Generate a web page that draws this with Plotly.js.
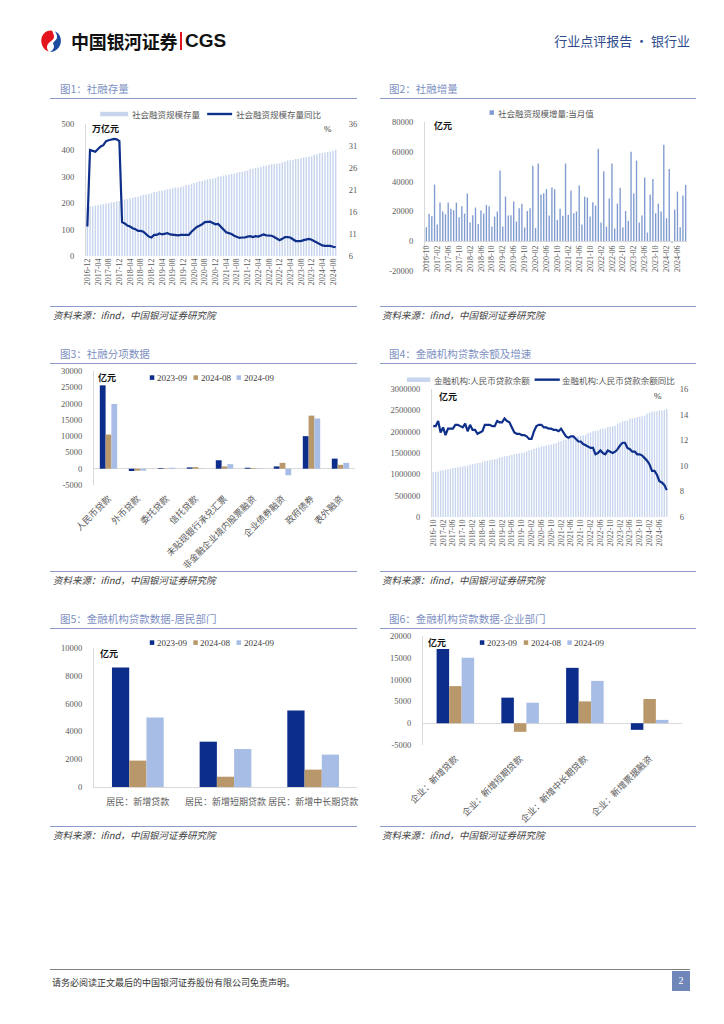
<!DOCTYPE html>
<html>
<head>
<meta charset="utf-8">
<script src="https://cdn.plot.ly/plotly-3.0.1.min.js"></script>
<style>
  html,body{margin:0;padding:0;background:#fff;}
  body{width:724px;height:1024px;position:relative;overflow:hidden;font-family:"Noto Sans CJK SC","Noto Sans",sans-serif;}
  .abs{position:absolute;white-space:nowrap;}
  .title{position:absolute;font-size:10.5px;line-height:14px;color:#7D8FC2;white-space:nowrap;}
  .rule{position:absolute;height:0;border-top:1.5px solid #8C9BC9;}
  .src{position:absolute;font-size:9.5px;line-height:12px;font-style:italic;color:#404040;white-space:nowrap;}
  .chart{position:absolute;}
</style>
</head>
<body>
<!-- header -->
<svg class="abs" style="left:40px;top:29px" width="22" height="24" viewBox="0 0 22 24">
  <path d="M12 1.5 C5.5 1 1 6 1.3 12.2 C1.6 17.5 5 21.3 8.6 22.6 C6.2 19.5 6.6 15.6 9.6 13.3 C12.2 11.3 14.8 9.6 13.8 6.2 C13.3 4.4 12.6 2.8 12 1.5Z" fill="#E3141E"/>
  <path d="M14.6 2.2 C18.6 3.6 21.2 7.6 20.9 12.4 C20.5 18.4 15.6 22.8 10.2 22.9 C13.6 21 14.8 17.6 13.4 15.3 C12.4 13.8 14.6 12.4 16 10.8 C17.8 8.6 17.2 4.8 14.6 2.2Z" fill="#1B4B9E"/>
</svg>
<div class="abs" style="left:71px;top:29px;font-size:18px;line-height:24px;font-weight:bold;color:#111;letter-spacing:-0.3px;">中国银河证券</div>
<div class="abs" style="left:180px;top:32px;width:1.5px;height:18px;background:#E3141E;"></div>
<div class="abs" style="left:185px;top:29px;font-size:19px;line-height:24px;font-weight:bold;color:#111;font-family:'Liberation Sans',Arial,sans-serif;">CGS</div>
<div class="abs" style="right:34px;top:33px;font-size:13px;line-height:16px;color:#2E4C8C;">行业点评报告 · 银行业</div>

<!-- section titles and rules -->
<div class="title" style="left:60px;top:82px;">图1：社融存量</div>
<div class="rule" style="left:50px;top:98px;width:307px;"></div>
<div class="title" style="left:389px;top:82px;">图2：社融增量</div>
<div class="rule" style="left:380px;top:98px;width:316px;"></div>
<div class="rule" style="left:50px;top:306px;width:307px;"></div>
<div class="rule" style="left:380px;top:306px;width:316px;"></div>
<div class="src" style="left:53px;top:309px;">资料来源：ifind，中国银河证券研究院</div>
<div class="src" style="left:382px;top:309px;">资料来源：ifind，中国银河证券研究院</div>

<div class="title" style="left:60px;top:347px;">图3：社融分项数据</div>
<div class="rule" style="left:50px;top:363px;width:307px;"></div>
<div class="title" style="left:389px;top:347px;">图4：金融机构贷款余额及增速</div>
<div class="rule" style="left:380px;top:363px;width:316px;"></div>
<div class="rule" style="left:50px;top:571px;width:307px;"></div>
<div class="rule" style="left:380px;top:571px;width:316px;"></div>
<div class="src" style="left:53px;top:574px;">资料来源：ifind，中国银河证券研究院</div>
<div class="src" style="left:382px;top:574px;">资料来源：ifind，中国银河证券研究院</div>

<div class="title" style="left:60px;top:612px;">图5：金融机构贷款数据-居民部门</div>
<div class="rule" style="left:50px;top:628px;width:307px;"></div>
<div class="title" style="left:389px;top:612px;">图6：金融机构贷款数据-企业部门</div>
<div class="rule" style="left:380px;top:628px;width:316px;"></div>
<div class="rule" style="left:50px;top:826px;width:307px;"></div>
<div class="rule" style="left:380px;top:826px;width:316px;"></div>
<div class="src" style="left:53px;top:829px;">资料来源：ifind，中国银河证券研究院</div>
<div class="src" style="left:382px;top:829px;">资料来源：ifind，中国银河证券研究院</div>

<!-- footer -->
<div class="abs" style="left:50px;top:969px;width:640px;height:0;border-top:1px solid #808080;"></div>
<div class="abs" style="left:52px;top:977px;font-size:9px;line-height:12px;color:#333;">请务必阅读正文最后的中国银河证券股份有限公司免责声明。</div>
<div class="abs" style="left:672px;top:971px;width:18px;height:20px;background:#6F86B9;color:#fff;font-size:10px;line-height:20px;text-align:center;font-family:'Liberation Serif',serif;">2</div>

<div id="c1" class="chart"></div>
<div id="c2" class="chart"></div>
<div id="c3" class="chart"></div>
<div id="c4" class="chart"></div>
<div id="c5" class="chart"></div>
<div id="c6" class="chart"></div>

<script>
// ---------------- DATA ----------------
// Chart 1: 社会融资规模存量 (万亿元) and 同比 (%), 2016-12 .. 2024-09
const tsfStock = [184.0,
  187.4, 188.4, 190.7, 192.5, 194.1, 196.4, 198.4, 200.3, 202.6, 204.1, 206.2, 208.0,
  212.2, 213.8, 216.1, 219.1, 220.6, 223.3, 225.7, 228.9, 232.0, 233.3, 235.5, 238.1,
  242.8, 243.8, 246.8, 248.5, 250.2, 252.9, 254.2, 256.4, 258.9, 259.8, 261.8, 264.0,
  268.5, 269.3, 273.9, 276.7, 279.5, 282.6, 284.1, 287.3, 290.4, 291.7, 293.6, 295.1,
  299.9, 301.5, 304.6, 306.3, 308.1, 311.5, 312.5, 315.2, 317.9, 319.4, 321.8, 324.0,
  329.2, 330.2, 334.1, 334.9, 337.3, 341.6, 342.3, 344.4, 347.4, 348.2, 349.9, 351.0,
  355.5, 357.9, 361.9, 362.8, 364.1, 367.3, 367.7, 370.0, 373.1, 374.5, 376.4, 377.9,
  383.9, 385.3, 389.8, 389.7, 391.7, 394.8, 395.7, 398.5, 402.0];
const tsfStockYoY = [12.7, 30.1, 29.9, 29.7, 30.3, 30.9, 31.2, 32.1, 32.3, 32.4,
  32.6, 32.5, 32.1, 13.7, 13.4, 12.9, 12.7, 12.3, 12.1, 11.7,
  11.7, 11.5, 11.0, 10.4, 10.2, 10.8, 10.8, 11.1, 10.9, 11.1,
  11.2, 10.9, 10.8, 10.8, 10.7, 10.8, 10.8, 10.8, 10.8, 11.5,
  12.1, 12.6, 12.9, 13.2, 13.7, 13.8, 13.8, 13.5, 13.2, 13.3,
  12.7, 11.9, 11.4, 11.2, 11.0, 10.6, 10.3, 10.1, 10.2, 10.2,
  10.4, 10.5, 10.3, 10.5, 10.4, 10.6, 10.9, 10.7, 10.6, 10.6,
  10.3, 10.0, 9.6, 9.9, 10.3, 10.3, 10.2, 9.8, 9.4, 9.4,
  9.4, 9.6, 9.7, 9.9, 9.7, 9.4, 9.0, 8.7, 8.4, 8.3,
  8.3, 8.3, 8.1, 8.0];
const c1TickLabels = ['2016-12','2017-04','2017-08','2017-12','2018-04','2018-08','2018-12','2019-04','2019-08','2019-12','2020-04','2020-08','2020-12','2021-04','2021-08','2021-12','2022-04','2022-08','2022-12','2023-04','2023-08','2023-12','2024-04','2024-08'];

// Chart 2: 社会融资规模增量:当月值 (亿元), 2016-10 .. 2024-09
const tsfFlow = [9400, 18500, 16800,
  38000, 11200, 25900, 19900, 18100, 25900, 21700, 20800, 25900, 16100, 23500, 18500,
  32000, 12500, 17400, 22600, 11600, 20600, 18500, 24400, 23500, 9800, 16500, 19900,
  47400, 9800, 29900, 17200, 17400, 26600, 13200, 22100, 25200, 9200, 20300, 22100,
  50700, 8900, 52100, 31300, 32200, 34900, 17200, 36000, 34900, 14300, 21700, 17000,
  52100, 17700, 34000, 18800, 19900, 37300, 11200, 29900, 29300, 16500, 26100, 23900,
  62100, 12500, 46900, 9800, 28600, 52100, 8500, 25200, 35800, 9400, 20300, 13600,
  60100, 32000, 54100, 12500, 17200, 42700, 5800, 31300, 41800, 18800, 25200, 19900,
  64800, 15400, 48500, -1100, 21200, 33300, 9400, 30600, 37800];
const c24TickLabels = ['2016-10','2017-02','2017-06','2017-10','2018-02','2018-06','2018-10','2019-02','2019-06','2019-10','2020-02','2020-06','2020-10','2021-02','2021-06','2021-10','2022-02','2022-06','2022-10','2023-02','2023-06','2023-10','2024-02','2024-06'];
const c2YTicks = [-20000, 0, 20000, 40000, 60000, 80000];
const c2YText = ['-20000', '0', '20000', '40000', '60000', '80000'];

// Chart 3: 社融分项数据 (亿元)
const c3Cats = ['人民币贷款','外币贷款','委托贷款','信托贷款','未贴现银行承兑汇票','非金融企业境内股票融资','企业债券融资','政府债券','表外融资'];
const c3_2309 = [25600, -700, 200, 400, 2600, 300, 700, 10000, 3100];
const c3_2408 = [10500, -600, -100, 500, 700, 200, 1800, 16300, 1200];
const c3_2409 = [19900, -600, 300, 100, 1400, 100, -2000, 15400, 1800];
const c3YTicks = [-5000, 0, 5000, 10000, 15000, 20000, 25000, 30000];
const c3YText = ['-5000', '0', '5000', '10000', '15000', '20000', '25000', '30000'];

// Chart 4: 金融机构:人民币贷款余额 (亿元) and 同比 (%), 2016-10 .. 2024-09
const loanBal = [1048000, 1056000, 1066000,
  1086000, 1098000, 1108000, 1119000, 1130000, 1146000, 1154000, 1165000, 1178000, 1185000, 1196000, 1201000,
  1230000, 1238000, 1250000, 1262000, 1273000, 1291000, 1306000, 1319000, 1333000, 1340000, 1352000, 1363000,
  1396000, 1404000, 1421000, 1431000, 1443000, 1459000, 1469000, 1480000, 1493000, 1500000, 1514000, 1531000,
  1566000, 1575000, 1602000, 1619000, 1634000, 1652000, 1662000, 1675000, 1694000, 1701000, 1715000, 1727000,
  1763000, 1777000, 1804000, 1819000, 1834000, 1855000, 1863000, 1876000, 1895000, 1903000, 1916000, 1927000,
  1967000, 1979000, 2011000, 2017000, 2036000, 2064000, 2071000, 2083000, 2108000, 2114000, 2126000, 2139000,
  2188000, 2207000, 2245000, 2252000, 2265000, 2306000, 2306000, 2320000, 2346000, 2353000, 2364000, 2376000,
  2425000, 2439000, 2470000, 2469000, 2478000, 2500000, 2499000, 2508000, 2534000];
const loanYoY = [13.1, 13.1, 13.5,
  12.6, 13.0, 12.4, 12.9, 12.9, 12.9, 13.2, 13.2, 13.1, 13.0, 13.3, 12.7,
  13.2, 12.8, 12.8, 12.5, 12.6, 12.7, 13.2, 13.2, 13.2, 13.1, 13.1, 13.5,
  13.4, 13.4, 13.7, 13.5, 13.4, 13.0, 12.6, 12.5, 12.5, 12.4, 12.4, 12.3,
  12.1, 12.1, 12.7, 13.1, 13.2, 13.2, 13.0, 13.0, 12.9, 12.9, 12.8, 12.8,
  12.7, 12.9, 12.6, 12.3, 12.2, 12.3, 12.3, 12.1, 11.9, 11.9, 11.7, 11.6,
  11.5, 11.4, 11.4, 10.9, 11.0, 11.2, 11.0, 10.9, 11.2, 11.1, 11.0, 11.1,
  11.3, 11.6, 11.8, 11.8, 11.4, 11.3, 11.1, 11.1, 10.9, 10.9, 10.8, 10.6,
  10.4, 10.1, 9.6, 9.6, 9.3, 8.8, 8.7, 8.5, 8.1];

// Chart 5: 居民部门 (亿元)
const c5Cats = ['居民：新增贷款','居民：新增短期贷款','居民：新增中长期贷款'];
const c5_2309 = [8600, 3260, 5500];
const c5_2408 = [1900, 740, 1250];
const c5_2409 = [5000, 2730, 2330];

// Chart 6: 企业部门 (亿元)
const c6Cats = ['企业：新增贷款','企业：新增短期贷款','企业：新增中长期贷款','企业：新增票据融资'];
const c6_2309 = [17000, 5860, 12700, -1520];
const c6_2408 = [8500, -1980, 5000, 5550];
const c6_2409 = [15000, 4700, 9700, 760];
const c6YTicks = [-5000, 0, 5000, 10000, 15000, 20000];
const c6YText = ['-5000', '0', '5000', '10000', '15000', '20000'];

const seriesNames = ['2023-09', '2024-08', '2024-09'];

// ---------------- STYLE / LAYOUT HELPERS ----------------
const NAVY = '#0C2D8A', TAN = '#B8986A', LIGHT = '#A8BDE6';
const STOCKBAR = '#C8D5EE', LINE = '#0E2F8A', FLOWBAR = '#7F9BD0';
const AXC = '#D9D9D9';
const numFont = {family: '"Liberation Serif", "Noto Sans CJK SC", serif', size: 8.5, color: '#595959'};
const cjkFont = {family: '"Noto Sans CJK SC", sans-serif', size: 8.5, color: '#595959'};
const unitFont = {family: '"Noto Sans CJK SC", sans-serif', size: 9, color: '#111'};

function monthList(y, m, n) {
  const out = [];
  for (let i = 0; i < n; i++) {
    out.push(y + '-' + String(m).padStart(2, '0'));
    m++; if (m > 12) { m = 1; y++; }
  }
  return out;
}
function place(id, B) {
  const el = document.getElementById(id);
  el.style.left = B.left + 'px'; el.style.top = B.top + 'px';
  el.style.width = B.w + 'px'; el.style.height = B.h + 'px';
}
function marg(B) { return {l: B.x0 - B.left, r: B.left + B.w - B.x1, t: B.y0 - B.top, b: B.top + B.h - B.y1, pad: 0}; }
const fx = (B, x) => (x - B.x0) / (B.x1 - B.x0);
const fy = (B, y) => (B.y1 - y) / (B.y1 - B.y0);
function txt(B, x, y, text, font, anchor) {
  return {xref: 'paper', yref: 'paper', x: fx(B, x), y: fy(B, y), text: text, showarrow: false,
          xanchor: anchor || 'left', yanchor: 'middle', font: font, borderpad: 0};
}
function rect(B, x0, x1, y0, y1, color) {
  return {type: 'rect', xref: 'paper', yref: 'paper', x0: fx(B, x0), x1: fx(B, x1), y0: fy(B, y1), y1: fy(B, y0),
          fillcolor: color, line: {width: 0}};
}
function hline(B, x0, x1, y, color, w) {
  return {type: 'line', xref: 'paper', yref: 'paper', x0: fx(B, x0), x1: fx(B, x1), y0: fy(B, y), y1: fy(B, y),
          line: {color: color, width: w}};
}
function baseLayout(B) {
  return {width: B.w, height: B.h, margin: marg(B), showlegend: false,
          paper_bgcolor: 'rgba(0,0,0,0)', plot_bgcolor: 'rgba(0,0,0,0)', font: numFont};
}
function hiddenTickAxis(extra) {
  return Object.assign({showgrid: false, zeroline: false, ticks: 'outside', ticklen: 9,
                        tickcolor: 'rgba(0,0,0,0)', tickfont: numFont, fixedrange: true}, extra);
}
// three-series legend (square key + label) placed as in the source
function legend3(B, xs, y) {
  const cols = [NAVY, TAN, LIGHT];
  const shapes = [], anns = [];
  xs.forEach((x, i) => {
    shapes.push(rect(B, x, x + 4.5, y - 2.3, y + 2.3, cols[i]));
    anns.push(txt(B, x + 6, y, seriesNames[i], Object.assign({}, numFont, {size: 9, color: '#404040'})));
  });
  return {shapes, anns};
}
const cfg = {staticPlot: true, displayModeBar: false};

// ---------------- CHART 1 ----------------
const B1 = {left: 40, top: 100, w: 320, h: 205, x0: 85.7, x1: 337, y0: 124, y1: 256};
place('c1', B1);
const m1 = monthList(2016, 12, tsfStock.length);
const L1 = baseLayout(B1);
L1.bargap = 0.45;
L1.xaxis = {type: 'category', range: [-0.5, m1.length - 0.5], tickmode: 'array', tickvals: c1TickLabels,
            ticktext: c1TickLabels, tickangle: -90, tickfont: Object.assign({}, numFont, {size: 8}),
            showgrid: false, zeroline: false, showline: false, ticks: '', fixedrange: true};
L1.yaxis = hiddenTickAxis({range: [0, 500], tickvals: [0, 100, 200, 300, 400, 500], showline: true, linecolor: AXC});
L1.yaxis2 = hiddenTickAxis({range: [6, 36], tickvals: [6, 11, 16, 21, 26, 31, 36], overlaying: 'y', side: 'right', showline: false});
L1.shapes = [rect(B1, 100, 128, 111.8, 116.3, STOCKBAR), hline(B1, 207, 232, 114, LINE, 2.4)];
L1.annotations = [
  txt(B1, 131, 114, '社会融资规模存量', cjkFont),
  txt(B1, 235, 114, '社会融资规模存量同比', cjkFont),
  txt(B1, 91, 129, '<b>万亿元</b>', unitFont),
  txt(B1, 323, 129, '%', Object.assign({}, numFont, {size: 9, color: '#333'}))
];
Plotly.newPlot('c1', [
  {type: 'bar', x: m1, y: tsfStock, marker: {color: STOCKBAR, line: {width: 0}}, name: '社会融资规模存量'},
  {type: 'scatter', mode: 'lines', x: m1, y: tsfStockYoY, yaxis: 'y2', line: {color: LINE, width: 2.2}, name: '社会融资规模存量同比'}
], L1, cfg);

// ---------------- CHART 2 ----------------
const B2 = {left: 370, top: 100, w: 330, h: 205, x0: 425, x1: 687, y0: 122, y1: 271};
place('c2', B2);
const m2 = monthList(2016, 10, tsfFlow.length);
const L2 = baseLayout(B2);
L2.bargap = 0.5;
L2.xaxis = {type: 'category', range: [-0.5, m2.length - 0.5], tickmode: 'array', tickvals: c24TickLabels,
            ticktext: c24TickLabels, tickangle: -90, tickfont: Object.assign({}, numFont, {size: 8}),
            anchor: 'free', position: 0.2, showgrid: false, zeroline: false, showline: true, linecolor: AXC,
            ticks: '', fixedrange: true};
L2.yaxis = hiddenTickAxis({range: [-20000, 80000], tickvals: c2YTicks, ticktext: c2YText, showline: true, linecolor: AXC});
L2.shapes = [rect(B2, 489.5, 494, 110.3, 114.8, FLOWBAR)];
L2.annotations = [
  txt(B2, 496.5, 112.6, '社会融资规模增量:当月值', cjkFont),
  txt(B2, 433, 126, '<b>亿元</b>', unitFont)
];
Plotly.newPlot('c2', [
  {type: 'bar', x: m2, y: tsfFlow, marker: {color: FLOWBAR, line: {width: 0}}, name: '社会融资规模增量:当月值'}
], L2, cfg);

// ---------------- CHART 3 ----------------
const B3 = {left: 40, top: 365, w: 320, h: 222, x0: 94, x1: 355, y0: 370.7, y1: 485};
place('c3', B3);
const L3 = baseLayout(B3);
L3.barmode = 'group'; L3.bargap = 0.4; L3.bargroupgap = 0;
L3.xaxis = {type: 'category', tickangle: -45, tickfont: Object.assign({}, cjkFont, {size: 9}), showgrid: false,
            zeroline: false, showline: false, ticks: 'outside', ticklen: 4, tickcolor: 'rgba(0,0,0,0)', fixedrange: true};
L3.yaxis = hiddenTickAxis({range: [-5000, 30000], tickvals: c3YTicks, ticktext: c3YText, showline: true, linecolor: AXC,
                           zeroline: true, zerolinecolor: AXC, zerolinewidth: 1});
const lg3 = legend3(B3, [149.8, 193.5, 236.5], 377.3);
L3.shapes = lg3.shapes;
L3.annotations = lg3.anns.concat([txt(B3, 97, 377.3, '<b>亿元</b>', unitFont)]);
Plotly.newPlot('c3', [
  {type: 'bar', x: c3Cats, y: c3_2309, name: seriesNames[0], marker: {color: NAVY}},
  {type: 'bar', x: c3Cats, y: c3_2408, name: seriesNames[1], marker: {color: TAN}},
  {type: 'bar', x: c3Cats, y: c3_2409, name: seriesNames[2], marker: {color: LIGHT}}
], L3, cfg);

// ---------------- CHART 4 ----------------
const B4 = {left: 370, top: 365, w: 330, h: 205, x0: 431.7, x1: 667.7, y0: 389.3, y1: 516.7};
place('c4', B4);
const m4 = monthList(2016, 10, loanBal.length);
const L4 = baseLayout(B4);
L4.bargap = 0.45;
L4.xaxis = {type: 'category', range: [-0.5, m4.length - 0.5], tickmode: 'array', tickvals: c24TickLabels,
            ticktext: c24TickLabels, tickangle: -90, tickfont: Object.assign({}, numFont, {size: 8}),
            showgrid: false, zeroline: false, showline: false, ticks: '', fixedrange: true};
L4.yaxis = hiddenTickAxis({range: [0, 3000000], dtick: 500000, tickformat: 'd', showline: true, linecolor: AXC});
L4.yaxis2 = hiddenTickAxis({range: [6, 16], tickvals: [6, 8, 10, 12, 14, 16], overlaying: 'y', side: 'right', showline: false});
L4.shapes = [rect(B4, 406.7, 430, 377.8, 382.3, STOCKBAR), hline(B4, 534.3, 559.5, 380, LINE, 2.4)];
L4.annotations = [
  txt(B4, 432.7, 380, '金融机构:人民币贷款余额', cjkFont),
  txt(B4, 561, 380, '金融机构:人民币贷款余额同比', cjkFont),
  txt(B4, 438, 396.5, '<b>亿元</b>', unitFont),
  txt(B4, 652.5, 396.5, '%', Object.assign({}, numFont, {size: 9, color: '#333'}))
];
Plotly.newPlot('c4', [
  {type: 'bar', x: m4, y: loanBal, marker: {color: STOCKBAR, line: {width: 0}}, name: '金融机构:人民币贷款余额'},
  {type: 'scatter', mode: 'lines', x: m4, y: loanYoY, yaxis: 'y2', line: {color: LINE, width: 2.2}, name: '金融机构:人民币贷款余额同比'}
], L4, cfg);

// ---------------- CHART 5 ----------------
const B5 = {left: 40, top: 630, w: 320, h: 195, x0: 94, x1: 357, y0: 647.7, y1: 786.7};
place('c5', B5);
const L5 = baseLayout(B5);
L5.barmode = 'group'; L5.bargap = 0.41; L5.bargroupgap = 0;
L5.xaxis = {type: 'category', tickfont: Object.assign({}, cjkFont, {size: 9}), showgrid: false, zeroline: false,
            showline: true, linecolor: AXC, ticks: 'outside', ticklen: 6, tickcolor: 'rgba(0,0,0,0)', fixedrange: true};
L5.yaxis = hiddenTickAxis({range: [0, 10000], dtick: 2000, tickformat: 'd', showline: true, linecolor: AXC});
const lg5 = legend3(B5, [149.8, 193.3, 236.5], 642.3);
L5.shapes = lg5.shapes;
L5.annotations = lg5.anns.concat([txt(B5, 98.5, 652.8, '<b>亿元</b>', unitFont)]);
Plotly.newPlot('c5', [
  {type: 'bar', x: c5Cats, y: c5_2309, name: seriesNames[0], marker: {color: NAVY}},
  {type: 'bar', x: c5Cats, y: c5_2408, name: seriesNames[1], marker: {color: TAN}},
  {type: 'bar', x: c5Cats, y: c5_2409, name: seriesNames[2], marker: {color: LIGHT}}
], L5, cfg);

// ---------------- CHART 6 ----------------
const B6 = {left: 370, top: 630, w: 330, h: 210, x0: 423.3, x1: 681.7, y0: 635.7, y1: 745};
place('c6', B6);
const L6 = baseLayout(B6);
L6.barmode = 'group'; L6.bargap = 0.42; L6.bargroupgap = 0;
L6.xaxis = {type: 'category', tickangle: -45, tickfont: Object.assign({}, cjkFont, {size: 9}), showgrid: false,
            zeroline: false, showline: false, ticks: 'outside', ticklen: 4, tickcolor: 'rgba(0,0,0,0)', fixedrange: true};
L6.yaxis = hiddenTickAxis({range: [-5000, 20000], tickvals: c6YTicks, ticktext: c6YText, showline: true, linecolor: AXC,
                           zeroline: true, zerolinecolor: AXC, zerolinewidth: 1});
const lg6 = legend3(B6, [480, 523.8, 567.3], 642.3);
L6.shapes = lg6.shapes;
L6.annotations = lg6.anns.concat([txt(B6, 427, 642.3, '<b>亿元</b>', unitFont)]);
Plotly.newPlot('c6', [
  {type: 'bar', x: c6Cats, y: c6_2309, name: seriesNames[0], marker: {color: NAVY}},
  {type: 'bar', x: c6Cats, y: c6_2408, name: seriesNames[1], marker: {color: TAN}},
  {type: 'bar', x: c6Cats, y: c6_2409, name: seriesNames[2], marker: {color: LIGHT}}
], L6, cfg);
</script>
</body>
</html>
